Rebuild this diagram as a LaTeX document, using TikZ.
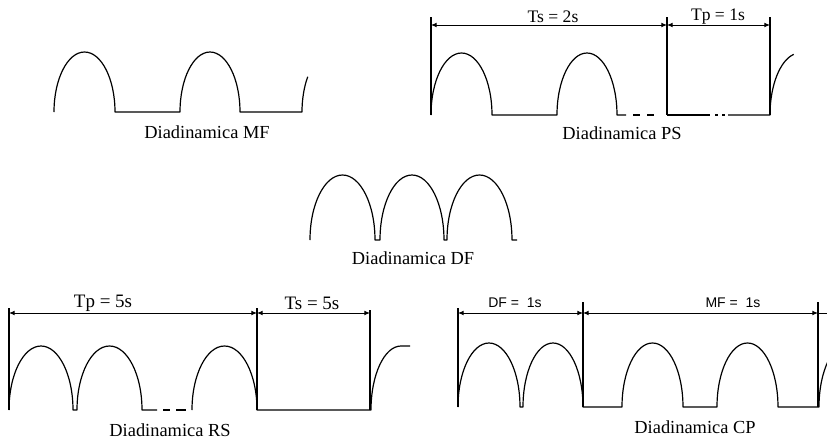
\documentclass[tikz,border=0pt]{standalone}
\usepackage{fontspec}
\setmainfont{Liberation Serif}
\setsansfont{Liberation Sans}
\usetikzlibrary{arrows.meta}
\tikzset{wave/.style={line width=.6pt,line join=round},tick/.style={line width=.6pt},hump/.style 2 args={start angle=180,end angle=360,x radius=#1,y radius=#2},part/.style n args={3}{start angle=180,end angle=#1,x radius=#2,y radius=#3},dimarr/.style={{Latex[length=2.8pt,width=2.4pt]}-{Latex[length=2.8pt,width=2.4pt]},line width=.5pt},caption/.style={font=\fontsize{9.2}{11}\selectfont,inner sep=0pt},dimlbl/.style={font=\fontsize{8.8}{10}\selectfont,inner sep=0pt},biglbl/.style={font=\fontsize{9.5}{11}\selectfont,inner sep=0pt},sanslbl/.style={font=\sffamily\fontsize{7}{8}\selectfont,inner sep=0pt}}

\begin{document}
\begin{tikzpicture}[x=.5pt,y=-.5pt]
\useasboundingbox (0,0) rectangle (827,440);
% MF
\draw[wave] (54,112) arc[hump={30.5}{60}] -- (180,112) arc[hump={30}{60}] -- (302,112) arc[part={216}{30}{60}];
\node[caption] (mf) at (207,132) {Diadinamica MF};
% PS
\foreach \x in {431,667,770}{\draw[tick] (\x,17) -- (\x,115);}
\coordinate (ps1) at (431,25); \coordinate (ps2) at (667,25); \coordinate (ps3) at (770,25);
\draw[dimarr] (ps1) -- (ps2); \draw[dimarr] (ps2) -- (ps3);
\node[dimlbl] (psts) at (553,17) {Ts = 2s};
\node[dimlbl] (pstp) at (718,17) {Tp = 1s};
\draw[wave] (431,115) arc[hump={30.5}{62}] -- (557,115) arc[hump={30}{62}] -- (626,115);
\draw[wave] (633,115) -- (640,115) (647,115) -- (654,115) (667,115) -- (710,115) (715,115) -- (718,115) (722,115) -- (725,115);
\draw[wave] (728,115) -- (770,115) arc[part={258}{30}{62}];
\node[caption] (ps) at (622,133) {Diadinamica PS};
% DF
\draw[wave] (310,240) arc[hump={32.5}{65}] -- (380,240) arc[hump={32}{65}] -- (447,240) arc[hump={32.5}{65}] -- (517,240);
\node[caption] (df) at (413,258) {Diadinamica DF};
% RS
\foreach \x/\y in {9/308,257/308,370/310}{\draw[tick] (\x,\y) -- (\x,410);}
\coordinate (rs1) at (9,313); \coordinate (rs2) at (257,313); \coordinate (rs3) at (370,313);
\draw[dimarr] (rs1) -- (rs2); \draw[dimarr] (rs2) -- (rs3);
\node[biglbl] (rstp) at (103,303) {Tp = 5s};
\node[biglbl] (rsts) at (312,303) {Ts = 5s};
\draw[wave] (9,410) arc[hump={32}{64}] -- (77,410) arc[hump={32.5}{64}] -- (157,410);
\draw[wave] (163,410) -- (170,410) (176,410) -- (186,410);
\draw[wave] (192,410) arc[hump={32.5}{64}] -- (371,410) arc[part={270}{30}{64}] -- (410,346);
\node[caption] (rs) at (170,430) {Diadinamica RS};
% CP
\foreach \x/\y in {458/308,583/302,818/302}{\draw[tick] (\x,\y) -- (\x,407);}
\coordinate (cp1) at (458,313); \coordinate (cp2) at (583,313); \coordinate (cp3) at (818,313); \coordinate (cp4) at (827,313);
\draw[dimarr] (cp1) -- (cp2); \draw[dimarr] (cp2) -- (cp3); \draw[dimarr,-] (cp3) -- (cp4);
\node[sanslbl] (cpdf) at (515,303) {DF =\ \ 1s};
\node[sanslbl] (cpmf) at (733,303) {MF =\ \ 1s};
\draw[wave] (458,407) arc[hump={31}{64}] -- (523,407) arc[hump={30}{64}] -- (622,407) arc[hump={30.5}{64}] -- (717,407) arc[hump={30.5}{64}] -- (819,407) arc[part={226}{30}{64}];
\node[caption] (cp) at (695,427) {Diadinamica CP};
\end{tikzpicture}
\end{document}
